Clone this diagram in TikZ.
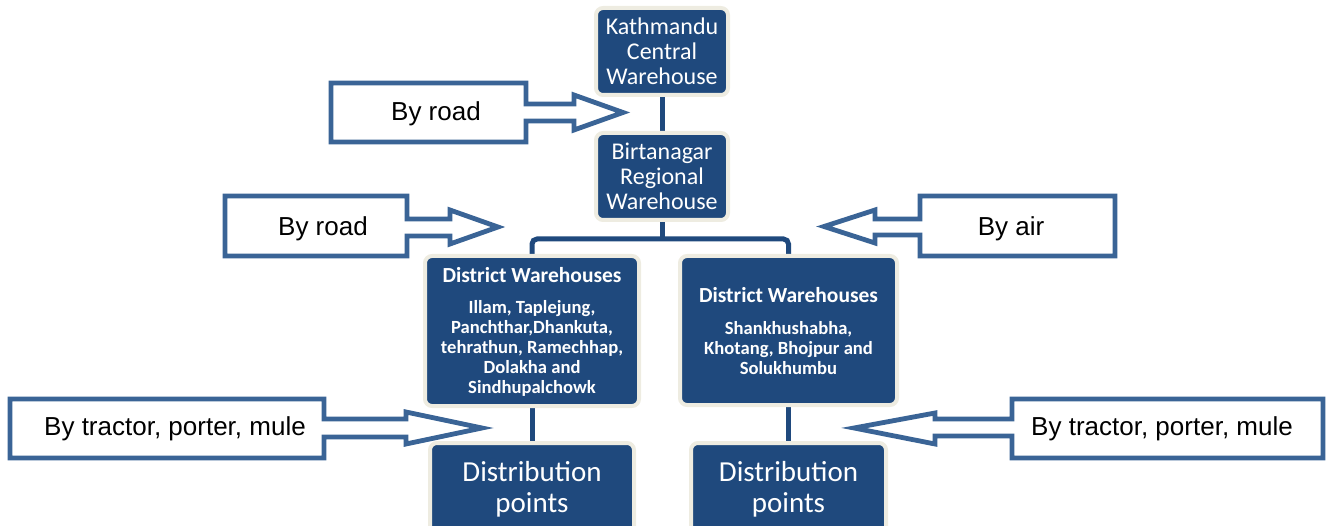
\documentclass[tikz,border=0pt]{standalone}
\usepackage{fontspec}
\setmainfont{Carlito}
\newfontfamily\arialf{Liberation Sans}
\usetikzlibrary{backgrounds}
\definecolor{boxblue}{HTML}{1F497D}
\definecolor{rimbeige}{HTML}{EEECE1}
\definecolor{arrblue}{HTML}{3A6496}
\begin{document}
\begin{tikzpicture}[x=1pt,y=-1pt,
  wbox/.style={rectangle, rounded corners=7pt, fill=boxblue, draw=rimbeige, line width=4pt, text=white, align=center, inner sep=0pt},
  conn/.style={draw=boxblue, line width=5pt},
  blockarrow/.style={draw=arrblue, line width=4.8pt, fill=white, miter limit=25, line join=miter},
  arrtext/.style={font=\arialf\fontsize{26}{30}\selectfont, text=black, inner sep=0pt},
  midtext/.style={font=\fontsize{24}{25}\selectfont},
  distext/.style={font=\fontsize{29}{31}\selectfont},
  dtitle/.style={text=white, inner sep=0pt, font=\bfseries\fontsize{21.5}{22}\selectfont},
  dlist/.style={text=white, inner sep=0pt, align=center, font=\bfseries\fontsize{18.6}{20}\selectfont}
]
\useasboundingbox (0,0) rectangle (1332,526);
\clip (0,0) rectangle (1332,526);

% warehouse boxes
\node[wbox, midtext, minimum width=132pt, minimum height=87pt] (kat) at (662,51.5) {Kathmandu\\Central\\Warehouse};
\node[wbox, midtext, minimum width=132pt, minimum height=87pt] (bir) at (662,176.5) {Birtanagar\\Regional\\Warehouse};
\node[wbox, minimum width=214pt, minimum height=150pt] (dl) at (532,331) {};
\node[wbox, minimum width=217pt, minimum height=149pt] (dr) at (788.5,330.5) {};
\node[dtitle] (dlt) at (532,275) {District Warehouses};
\node[dlist] (dll) at (532,348) {Illam, Taplejung,\\Panchthar,Dhankuta,\\tehrathun, Ramechhap,\\Dolakha and\\Sindhupalchowk};
\node[dtitle] (drt) at (788.5,295) {District Warehouses};
\node[dlist] (drl) at (788.5,348) {Shankhushabha,\\Khotang, Bhojpur and\\Solukhumbu};
\node[wbox, distext, minimum width=204pt, minimum height=92pt] (pl) at (532,489) {Distribution\\points};
\node[wbox, distext, minimum width=195pt, minimum height=92pt] (pr) at (788.5,489) {Distribution\\points};

\coordinate (hub) at (662,239);
\begin{scope}[on background layer]
\draw[conn] (kat.south) -- (bir.north);
\draw[conn] (bir.south) -- (hub);
\draw[conn, rounded corners=5pt] (dl.north) |- (hub) -| (dr.north);
\draw[conn] (dl.south) -- (pl.north);
\draw[conn] (dr.south) -- (pr.north);
\end{scope}

% block arrows
\draw[blockarrow] (331,83) -- (526,83) -- (526,104) -- (574,104) -- (574,95) -- (623,112.5) -- (574,130) -- (574,121) -- (526,121) -- (526,142) -- (331,142) -- cycle;
\node[arrtext] (t1) at (436,114) {By road};

\draw[blockarrow] (225,196) -- (407,196) -- (407,219) -- (450,219) -- (450,210) -- (498,227) -- (450,244) -- (450,236) -- (407,236) -- (407,256) -- (225,256) -- cycle;
\node[arrtext] (t2) at (323,229) {By road};

\draw[blockarrow] (1115,196) -- (920,196) -- (920,219) -- (875,219) -- (875,210) -- (824,226.5) -- (875,243) -- (875,235) -- (920,235) -- (920,256) -- (1115,256) -- cycle;
\node[arrtext] (t3) at (1011,229) {By air};

\draw[blockarrow] (10,399) -- (324,399) -- (324,419) -- (406,419) -- (406,412) -- (482,428) -- (406,444) -- (406,437) -- (324,437) -- (324,458) -- (10,458) -- cycle;
\node[arrtext] (t4) at (175,429) {By tractor, porter, mule};

\draw[blockarrow] (1323,399) -- (1012,399) -- (1012,419) -- (935,419) -- (935,413) -- (854,428) -- (935,444) -- (935,436) -- (1012,436) -- (1012,458) -- (1323,458) -- cycle;
\node[arrtext] (t5) at (1162,429) {By tractor, porter, mule};
\end{tikzpicture}
\end{document}
